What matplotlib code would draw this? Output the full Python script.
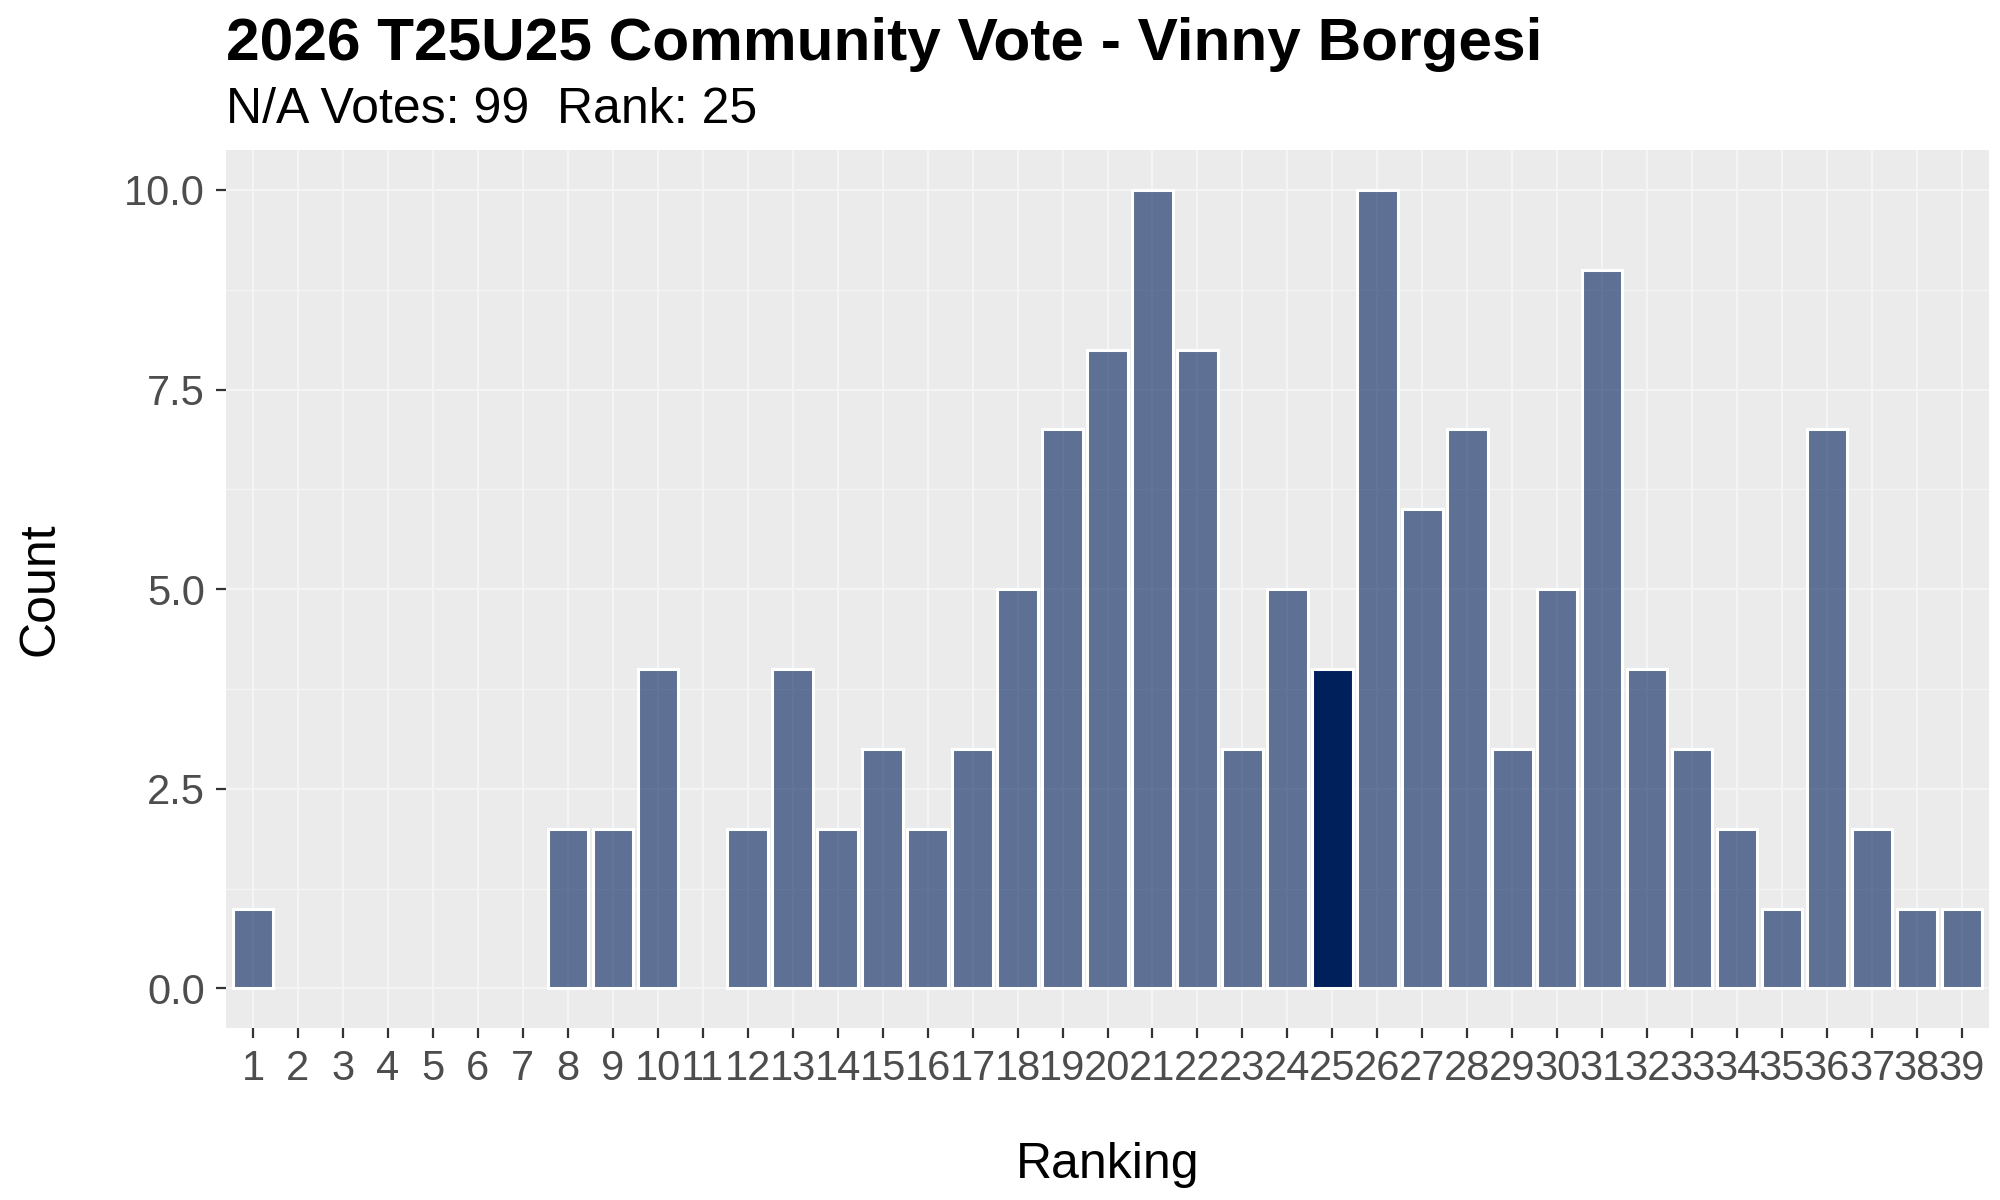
import numpy as np
import matplotlib.pyplot as plt

# datos
rankings = list(range(1, 40))
counts = [1, 0, 0, 0, 0, 0, 0, 2, 2, 4,
          0, 2, 4, 2, 3, 2, 3, 5, 7, 8,
          10, 8, 3, 5, 4, 10, 6, 7, 3, 5,
          9, 4, 3, 2, 1, 7, 2, 1, 1]
player_rank = 25
na_votes = 99
title = "2026 T25U25 Community Vote - Vinny Borgesi"
subtitle = f"N/A Votes: {na_votes}  Rank: {player_rank}"

plt.rcParams['font.family'] = ['Liberation Sans', 'DejaVu Sans']

navy = '#00205B'
bg = '#EBEBEB'

fig = plt.figure(figsize=(20, 12), dpi=100)
ax = fig.add_axes([0.113, 0.143, 0.8815, 0.732])
ax.set_facecolor(bg)

x = np.array(rankings)
y = np.array(counts)
for xi, yi in zip(x, y):
    if yi == 0:
        continue
    a = 1.0 if xi == player_rank else 0.6
    ax.bar(xi, yi, width=0.9, color=navy, alpha=a, edgecolor='none', zorder=3)
    ax.bar(xi, yi, width=0.9, facecolor='none', edgecolor='white',
           linewidth=2.2, zorder=4)

ax.set_xlim(0.4, 39.6)
ax.set_ylim(-0.5, 10.5)
ax.set_xticks(x)
ax.set_xticklabels([str(r) for r in rankings])
ax.set_yticks([0, 2.5, 5, 7.5, 10])
ax.set_yticklabels(['0.0', '2.5', '5.0', '7.5', '10.0'])
ax.set_yticks([1.25, 3.75, 6.25, 8.75], minor=True)

ax.grid(True, which='major', color='#F4F4F4', linewidth=1.6, zorder=0)
ax.grid(True, which='minor', axis='y', color='#F4F4F4', linewidth=1.0, zorder=0)
for s in ax.spines.values():
    s.set_visible(False)

ax.tick_params(axis='both', which='major', labelsize=30, labelcolor='#4D4D4D',
               color='#333333', length=7, width=1.6, pad=8)
ax.tick_params(axis='both', which='minor', length=0)

ax.set_xlabel('Ranking', fontsize=36, labelpad=38)
ax.set_ylabel('Count', fontsize=36, labelpad=44)

fig.text(0.113, 0.95, title, fontsize=43.5, fontweight='bold', va='baseline')
fig.text(0.113, 0.8975, subtitle, fontsize=36, va='baseline')

fig.savefig('out.png', dpi=100)
